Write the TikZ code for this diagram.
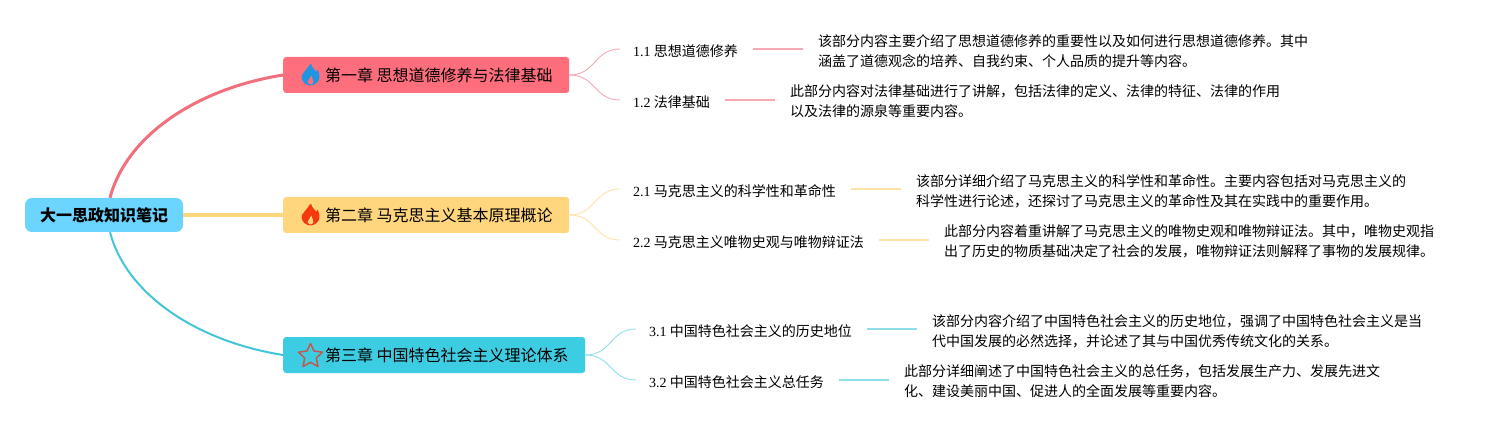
\documentclass[tikz,border=0pt]{standalone}
\usepackage{fontspec}
\setmainfont{Liberation Serif}
\newfontfamily\cjk{Noto Sans CJK SC}
\definecolor{pinkb}{HTML}{FF6E7D}
\definecolor{yellowb}{HTML}{FFD67E}
\definecolor{tealb}{HTML}{3DCDE3}
\definecolor{rootb}{HTML}{6BD4FF}
\definecolor{pinkl}{HTML}{F5A9B3}
\definecolor{yellowl}{HTML}{FFE3A8}
\definecolor{teall}{HTML}{8FDFEB}
\definecolor{flameblue}{HTML}{2196E0}
\definecolor{flamered}{HTML}{F5390F}
\definecolor{starred}{HTML}{C4584A}
\tikzset{
  x=1pt,y=-1pt,
  rootnode/.style={draw=none,fill=rootb,rounded corners=7pt,minimum width=158pt,minimum height=34pt,inner sep=0pt,font=\cjk\bfseries\fontsize{16}{20}\selectfont},
  chapnode/.style={draw=none,rounded corners=3pt,anchor=west,minimum height=36pt,inner xsep=0pt,inner ysep=0pt,align=left,font=\cjk\fontsize{16}{20}\selectfont},
  subnode/.style={anchor=west,inner sep=0pt,text height=18pt,text depth=3pt,font=\cjk\fontsize{14}{20}\selectfont},
  paranode/.style={anchor=west,inner sep=0pt,align=left,font=\cjk\fontsize{14}{20}\selectfont},
  twig/.style={line width=0.9pt,shorten >=13pt},
  seg/.style={line width=2pt,shorten <=15pt,shorten >=15pt},
}
\newcommand{\num}[1]{{\rmfamily #1}}
\newcommand{\chaptext}[2]{\hspace*{42pt}\raisebox{-1pt}{#1\hspace{3.5pt}#2}}
\newcommand{\myflame}[4]{%
  \begin{scope}[shift={(#1,#2)}]
    \fill[#3] (0.5,-11.5) .. controls (1.5,-7) and (4,-6) .. (5.5,-3.5)
      .. controls (6,-3) and (6.5,-4) .. (7,-5.5) .. controls (8.7,-2) and (9.2,0) .. (8.9,2.5)
      .. controls (8.7,7) and (4,10.5) .. (0,10.5) .. controls (-4,10.5) and (-8.9,7) .. (-8.9,2.5)
      .. controls (-8.9,-2) and (-5,-3) .. (-3.5,-6.5) .. controls (-2.5,-8.5) and (-1,-10) .. (0.5,-11.5) -- cycle;
    \fill[#4] (0.7,0.5) .. controls (0,3.5) and (-3.4,5.5) .. (-2.6,8)
      .. controls (-1.8,10) and (1.8,10) .. (2.8,8) .. controls (3.4,5.5) and (1.5,3.5) .. (0.7,0.5) -- cycle;
  \end{scope}}
\begin{document}
\begin{tikzpicture}
\useasboundingbox (0,0) rectangle (1504,430);
\fill[white] (0,0) rectangle (1504,430);

\node[rootnode] (root) at (104,215) {\raisebox{-1pt}{大一思政知识笔记}};
\node[chapnode,fill=pinkb,text width=286pt] (c1) at (283,75) {\chaptext{第一章}{思想道德修养与法律基础}};
\node[chapnode,fill=yellowb,text width=286pt] (c2) at (283,215) {\chaptext{第二章}{马克思主义基本原理概论}};
\node[chapnode,fill=tealb,text width=302pt] (c3) at (283,355) {\chaptext{第三章}{中国特色社会主义理论体系}};

\myflame{310.5}{75}{flameblue}{pinkb}
\myflame{310.5}{215}{flamered}{yellowb}
\draw[starred,line width=1.5pt,line join=round]
  (310.5,343.5) -- (314,351) -- (322.5,352.2) -- (316.3,358) -- (318,366.5)
  -- (310.5,362.3) -- (303,366.5) -- (304.7,358) -- (298.5,352.2) -- (307,351) -- cycle;

\draw[pinkb!90!gray,line width=3pt] ([xshift=6pt]root.north) .. controls (125,140) and (190,90) .. (c1.west);
\draw[yellowb,line width=4pt] (root.east) -- (c2.west);
\draw[tealb!90!gray,line width=2pt] ([xshift=6pt]root.south) .. controls (125,290) and (190,340) .. (c3.west);

\node[subnode] (s11) at (633,49) {\num{1.1} 思想道德修养};
\node[subnode] (s12) at (633,100) {\num{1.2} 法律基础};
\node[subnode] (s21) at (633,189) {\num{2.1} 马克思主义的科学性和革命性};
\node[subnode] (s22) at (633,240) {\num{2.2} 马克思主义唯物史观与唯物辩证法};
\node[subnode] (s31) at (649,329) {\num{3.1} 中国特色社会主义的历史地位};
\node[subnode] (s32) at (649,380) {\num{3.2} 中国特色社会主义总任务};

\node[paranode] (p11) at (818,51) {该部分内容主要介绍了思想道德修养的重要性以及如何进行思想道德修养。其中\\涵盖了道德观念的培养、自我约束、个人品质的提升等内容。};
\node[paranode] (p12) at (790,101) {此部分内容对法律基础进行了讲解，包括法律的定义、法律的特征、法律的作用\\以及法律的源泉等重要内容。};
\node[paranode] (p21) at (916,191) {该部分详细介绍了马克思主义的科学性和革命性。主要内容包括对马克思主义的\\科学性进行论述，还探讨了马克思主义的革命性及其在实践中的重要作用。};
\node[paranode] (p22) at (944,241) {此部分内容着重讲解了马克思主义的唯物史观和唯物辩证法。其中，唯物史观指\\出了历史的物质基础决定了社会的发展，唯物辩证法则解释了事物的发展规律。};
\node[paranode] (p31) at (932,331) {该部分内容介绍了中国特色社会主义的历史地位，强调了中国特色社会主义是当\\代中国发展的必然选择，并论述了其与中国优秀传统文化的关系。};
\node[paranode] (p32) at (904,381) {此部分详细阐述了中国特色社会主义的总任务，包括发展生产力、发展先进文\\化、建设美丽中国、促进人的全面发展等重要内容。};

\draw[pinkl,twig] (c1.east) .. controls (596,75) and (594,49) .. (s11.west);
\draw[pinkl,twig] (c1.east) .. controls (596,75) and (594,100) .. (s12.west);
\draw[yellowl,twig] (c2.east) .. controls (596,215) and (594,189) .. (s21.west);
\draw[yellowl,twig] (c2.east) .. controls (596,215) and (594,240) .. (s22.west);
\draw[teall,twig] (c3.east) .. controls (612,355) and (610,329) .. (s31.west);
\draw[teall,twig] (c3.east) .. controls (612,355) and (610,380) .. (s32.west);

\draw[pinkl,seg] (s11.east) -- (s11.east -| p11.west);
\draw[pinkl,seg] (s12.east) -- (s12.east -| p12.west);
\draw[yellowl,seg] (s21.east) -- (s21.east -| p21.west);
\draw[yellowl,seg] (s22.east) -- (s22.east -| p22.west);
\draw[teall,seg] (s31.east) -- (s31.east -| p31.west);
\draw[teall,seg] (s32.east) -- (s32.east -| p32.west);
\end{tikzpicture}
\end{document}
